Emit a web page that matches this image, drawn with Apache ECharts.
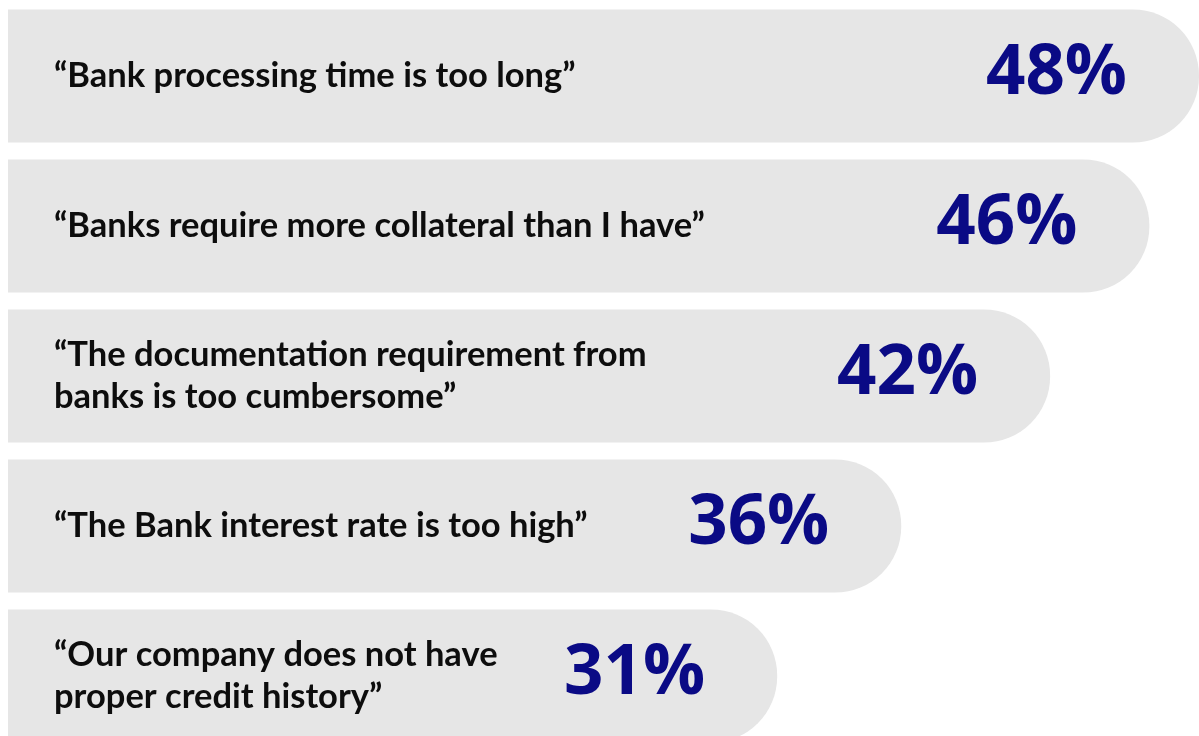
<!DOCTYPE html>
<html>
<head>
<meta charset="utf-8">
<script src="https://cdn.jsdelivr.net/npm/echarts@6/dist/echarts.min.js"></script>
<style>
  html, body { margin: 0; padding: 0; background: #ffffff; }
  #chart { width: 1199px; height: 736px; }
</style>
</head>
<body>
<div id="chart"></div>
<script>
// Reasons given for not borrowing from banks (share of respondents, %)
const reasons = [
  '\u201cBank processing time is too long\u201d',
  '\u201cBanks require more collateral than I have\u201d',
  '\u201cThe documentation requirement from\nbanks is too cumbersome\u201d',
  '\u201cThe Bank interest rate is too high\u201d',
  '\u201cOur company does not have\nproper credit history\u201d'
];
const shares = [48, 46, 42, 36, 31];

const chart = echarts.init(document.getElementById('chart'), null, { renderer: 'canvas' });

chart.setOption({
  animation: false,
  backgroundColor: '#ffffff',
  grid: {
    left: 8, right: 0, top: 1, height: 750,
    containLabel: false,
    outerBoundsMode: 'none'
  },
  xAxis: {
    type: 'value', min: 0, max: 48,
    show: false
  },
  yAxis: {
    type: 'category',
    data: reasons,
    inverse: true,
    z: 10,
    axisLine: { show: false },
    axisTick: { show: false },
    splitLine: { show: false },
    axisLabel: {
      inside: true,
      margin: 46,
      align: 'left',
      color: '#0d0d0d',
      fontFamily: 'Lato',
      fontWeight: 'bold',
      fontSize: 34.5,
      lineHeight: 42
    }
  },
  series: [{
    type: 'bar',
    data: shares,
    barWidth: 133,
    itemStyle: { color: '#e6e6e6', borderRadius: [0, 66, 66, 0] },
    label: {
      show: true,
      position: 'insideRight',
      distance: 72,
      offset: [0, -2],
      formatter: p => p.value + '%',
      color: '#0a0a85',
      fontFamily: 'Open Sans',
      fontWeight: 'bold',
      fontSize: 69
    }
  }]
});
</script>
</body>
</html>
